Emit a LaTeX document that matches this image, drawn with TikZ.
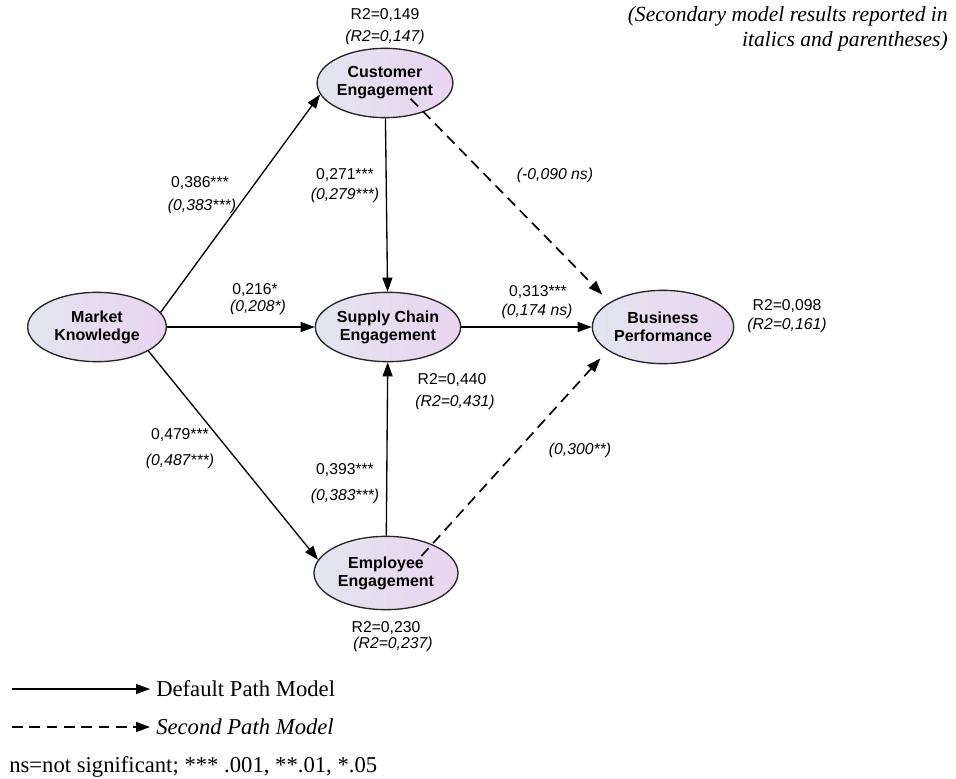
\documentclass[tikz,border=0pt]{standalone}
\usepackage{fontspec}
\setmainfont{Liberation Serif}
\setsansfont{Liberation Sans}
\usetikzlibrary{arrows.meta,shapes.geometric}
\definecolor{shL}{RGB}{226,229,240}
\definecolor{shR}{RGB}{234,212,240}
\tikzset{
  construct/.style={ellipse, draw=black!85, line width=1pt, left color=shL, right color=shR,
    minimum width=#1, minimum height=52pt, inner sep=0pt, align=center,
    font=\sffamily\bfseries\fontsize{12}{13.5}\selectfont},
  construct/.default=106pt,
  lbl/.style={font=\sffamily\fontsize{11.8}{13}\selectfont, inner sep=0pt, align=center},
  ilbl/.style={font=\sffamily\itshape\fontsize{11.8}{13}\selectfont, inner sep=0pt, align=center},
  path/.style={line width=1pt, -{Triangle[length=10.5pt,width=7.5pt]}},
  dpath/.style={path, line width=1.25pt, dash pattern=on 8pt off 5pt},
  legend/.style={font=\fontsize{17}{18}\selectfont, inner sep=0pt, anchor=west}
}
\begin{document}
\begin{tikzpicture}[x=0.75pt,y=-0.75pt]
\useasboundingbox (0,0) rectangle (956,778);
% constructs
\node[construct=104pt] (mk) at (97,327) {Market\\Knowledge};
\node[construct=101pt] (ce) at (385,83) {Customer\\Engagement};
\node[construct=109pt] (sc) at (388,327) {Supply Chain\\Engagement};
\node[construct=106pt, minimum height=55pt] (bp) at (663,327) {Business\\Performance};
\node[construct=108pt, minimum height=55pt] (ee) at (386,573) {Employee\\Engagement};
% paths
\draw[path] (mk.13) -- (ce.190);
\draw[path] (mk) -- (sc);
\draw[path] (mk.-25) -- (ee.169);
\draw[path] (ce) -- (sc);
\draw[path] (ee) -- (sc);
\draw[path] (sc) -- (bp);
\draw[dpath, shorten <=-14pt, shorten >=8pt] (ce.-37) -- (bp.155);
\draw[dpath, shorten <=-12pt, shorten >=8pt] (ee.32) -- (bp.-157);
% labels
\node[lbl] (r2ce) at (385,15) {R2=0,149};
\node[ilbl] (r2cei) at (385,37) {(R2=0,147)};
\node[lbl] (a1) at (200,183) {0,386***};
\node[ilbl] (a1i) at (202,206) {(0,383***)};
\node[lbl] (a2) at (345,175) {0,271***};
\node[ilbl] (a2i) at (345,195) {(0,279***)};
\node[ilbl] (a3) at (555,175) {(-0,090 ns)};
\node[lbl] (a4) at (255,290) {0,216*};
\node[ilbl] (a4i) at (258,307) {(0,208*)};
\node[lbl] (a5) at (538,292) {0,313***};
\node[ilbl] (a5i) at (537,311) {(0,174 ns)};
\node[lbl] (r2bp) at (787,306) {R2=0,098};
\node[ilbl] (r2bpi) at (787,325) {(R2=0,161)};
\node[lbl] (r2sc) at (452,380) {R2=0,440};
\node[ilbl] (r2sci) at (455,402) {(R2=0,431)};
\node[lbl] (a6) at (180,435) {0,479***};
\node[ilbl] (a6i) at (180,461) {(0,487***)};
\node[lbl] (a7) at (345,470) {0,393***};
\node[ilbl] (a7i) at (345,496) {(0,383***)};
\node[ilbl] (a8) at (580,450) {(0,300**)};
\node[lbl] (r2ee) at (386,628) {R2=0,230};
\node[ilbl] (r2eei) at (393,644) {(R2=0,237)};
% note
\node[font=\itshape\fontsize{16.2}{18.8}\selectfont, align=right, anchor=north east, inner sep=0pt] (note) at (948,6)
  {(Secondary model results reported in\\italics and parentheses)};
% legend
\coordinate (l1a) at (12,689);
\coordinate (l1b) at (150,689);
\coordinate (l2a) at (12,727);
\coordinate (l2b) at (150,727);
\draw[path] (l1a) -- (l1b);
\draw[dpath] (l2a) -- (l2b);
\node[legend] (leg1) at (156,689) {Default Path Model};
\node[legend, font=\itshape\fontsize{17}{18}\selectfont] (leg2) at (156,727) {Second Path Model};
\node[legend] (leg3) at (9,767) {ns=not significant; *** .001, **.01, *.05};
\end{tikzpicture}
\end{document}
